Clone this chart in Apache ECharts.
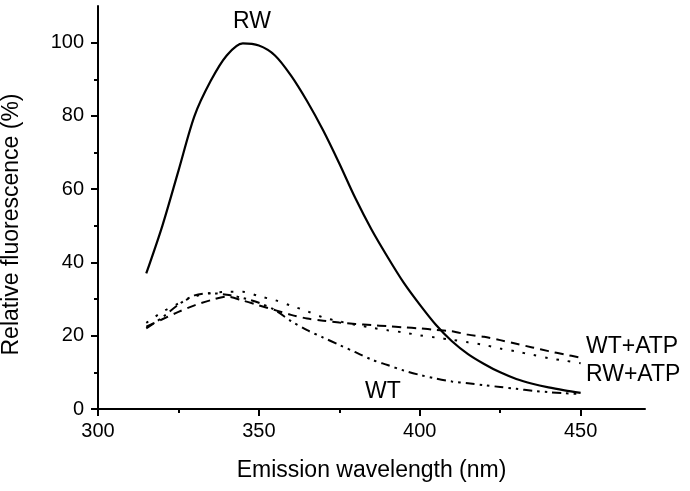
<!DOCTYPE html>
<html>
<head>
<meta charset="utf-8">
<script src="https://cdn.jsdelivr.net/npm/echarts@6/dist/echarts.min.js"></script>
<style>
html,body{margin:0;padding:0;background:#fff;}
#chart{width:690px;height:491px;}
</style>
</head>
<body>
<div id="chart"></div>
<script>
// Emission wavelength (nm)
const wavelengths = [315,320,325,330,335,340,345,350,355,360,365,370,375,380,385,390,395,400,405,410,415,420,425,430,435,440,445,450];
// Relative fluorescence (%)
const rw     = [37,50,65,80,89.5,96.5,99.8,99.2,96.5,91,84,76,67,57.5,49,41.5,34.5,28.5,23,18.5,15,12.3,10,8.2,6.9,5.9,5.1,4.4];
const wtAtp  = [22.5,24.5,26.5,28.3,29.7,30.7,29.6,28.3,27,25.7,24.7,24.1,23.6,23.2,22.9,22.6,22.3,22,21.6,21.2,20.3,19.7,18.8,17.8,16.8,15.8,14.9,14];
const rwAtp  = [23.5,26.5,28.8,30.7,31.6,32,32,30.8,29.7,28.2,26.7,25,23.9,23,22.2,21.5,20.9,20.1,19.5,18.9,18.2,17.5,16.5,15.7,14.8,13.9,13.2,12.5];
const wt     = [22,25,28.5,31,31.6,31.2,30.3,29,27,24,21.5,19.5,17.5,15.5,13.5,12,10.5,9.3,8.3,7.5,7,6.5,6,5.5,5,4.6,4.3,4.1];

const xMajor = [300,350,400,450];
const xMinor = [325,375,425];
const yMajor = [0,20,40,60,80,100];
const yMinor = [10,30,50,70,90];

const FONT = '"Liberation Sans", Arial, sans-serif';

function pairs(ys){ return wavelengths.map((x,i)=>[x, ys[i]]); }

const chart = echarts.init(document.getElementById('chart'), null, {renderer:'canvas'});
const axisLineStyle = {color:'#000', width:2};

chart.setOption({
  animation:false,
  backgroundColor:'#fff',
  grid:{left:98, right:45, top:6, bottom:82, containLabel:false, outerBoundsMode:'none'},
  xAxis:[{
    type:'value', min:300, max:470, position:'bottom',
    name:'Emission wavelength (nm)', nameLocation:'middle', nameGap:50,
    nameTextStyle:{fontFamily:FONT, fontSize:23, color:'#000'},
    axisLine:{show:true, lineStyle:axisLineStyle},
    axisTick:{show:true, customValues:xMajor, length:7, lineStyle:{color:'#000', width:2}},
    axisLabel:{customValues:xMajor, fontFamily:FONT, fontSize:20, color:'#000', margin:12},
    splitLine:{show:false}
  },{
    type:'value', min:300, max:470, position:'bottom',
    axisLine:{show:false},
    axisTick:{show:true, customValues:xMinor, length:4, lineStyle:{color:'#000', width:2}},
    axisLabel:{show:false},
    splitLine:{show:false}
  }],
  yAxis:[{
    type:'value', min:0, max:110, position:'left',
    name:'Relative fluorescence (%)', nameLocation:'middle', nameGap:75, nameRotate:90,
    nameTextStyle:{fontFamily:FONT, fontSize:23, color:'#000', padding:[0,34,0,0]},
    axisLine:{show:true, lineStyle:axisLineStyle},
    axisTick:{show:true, customValues:yMajor, length:7, lineStyle:{color:'#000', width:2}},
    axisLabel:{customValues:yMajor, fontFamily:FONT, fontSize:20, color:'#000', margin:14},
    splitLine:{show:false}
  },{
    type:'value', min:0, max:110, position:'left',
    axisLine:{show:false},
    axisTick:{show:true, customValues:yMinor, length:4, lineStyle:{color:'#000', width:2}},
    axisLabel:{show:false},
    splitLine:{show:false}
  }],
  series:[
    {name:'RW', type:'line', data:pairs(rw), smooth:0.3, showSymbol:false,
     lineStyle:{color:'#000', width:2.2, type:'solid'}},
    {name:'WT+ATP', type:'line', data:pairs(wtAtp), smooth:0.3, showSymbol:false,
     lineStyle:{color:'#000', width:2, type:[9,6]}},
    {name:'RW+ATP', type:'line', data:pairs(rwAtp), smooth:0.3, showSymbol:false,
     lineStyle:{color:'#000', width:2, type:[2.5,9]}},
    {name:'WT', type:'line', data:pairs(wt), smooth:0.3, showSymbol:false,
     lineStyle:{color:'#000', width:2, type:[9,5,2.5,5,2.5,5]}}
  ],
  graphic:[
    {type:'text', left:233, top:10, style:{text:'RW', fontFamily:FONT, fontSize:23, fill:'#000'}},
    {type:'text', left:365, top:380, style:{text:'WT', fontFamily:FONT, fontSize:23, fill:'#000'}},
    {type:'text', left:586, top:335, style:{text:'WT+ATP', fontFamily:FONT, fontSize:23, fill:'#000'}},
    {type:'text', left:586, top:363, style:{text:'RW+ATP', fontFamily:FONT, fontSize:23, fill:'#000'}}
  ]
});
</script>
</body>
</html>
